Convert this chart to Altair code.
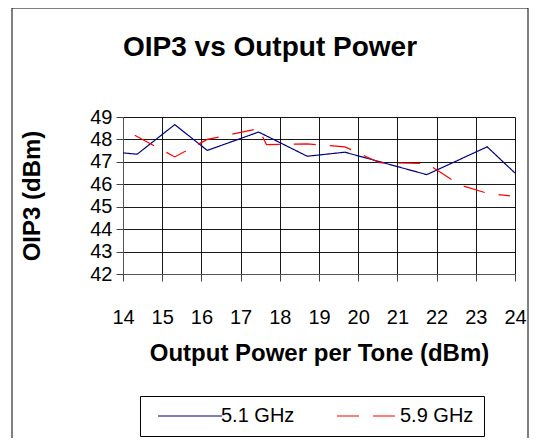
import altair as alt
import pandas as pd

series_names = ["5.1 GHz", "5.9 GHz"]

x_51 = [14.0, 14.36, 15.32, 16.15, 17.46, 18.70, 19.66, 21.75, 23.29, 24.0]
y_51 = [47.40, 47.34, 48.66, 47.51, 48.33, 47.25, 47.43, 46.43, 47.67, 46.50]

x_59 = [14.3, 15.32, 16.15, 17.46, 17.66, 18.70, 19.66, 20.55, 21.75, 22.6, 23.29, 23.87]
y_59 = [48.19, 47.22, 48.00, 48.48, 47.77, 47.80, 47.67, 46.96, 46.93, 45.97, 45.60, 45.48]

x_ticks = [14, 15, 16, 17, 18, 19, 20, 21, 22, 23, 24]
y_ticks = [42, 43, 44, 45, 46, 47, 48, 49]

chart_title = "OIP3 vs Output Power"

rows = []
for i, (a, b) in enumerate(zip(x_51, y_51)):
    rows.append({"power": a, "oip3": b, "series": series_names[0], "idx": i})
for i, (a, b) in enumerate(zip(x_59, y_59)):
    rows.append({"power": a, "oip3": b, "series": series_names[1], "idx": i})
df = pd.DataFrame(rows)

FONT = "Liberation Sans"

legend_cfg = dict(title=None, orient="none", legendX=17, legendY=279,
                  direction="horizontal", columns=2,
                  symbolType="M-1,0H31", symbolSize=16,
                  symbolStrokeWidth=1.2, labelFontSize=20, labelOffset=51,
                  labelFont=FONT, labelColor="black", strokeColor="black",
                  fillColor="white", padding=10, columnPadding=34)

lines = alt.Chart(df).mark_line(strokeWidth=1.2).encode(
    x=alt.X("power:Q",
            scale=alt.Scale(domain=[14, 24], nice=False, zero=False),
            axis=alt.Axis(values=x_ticks, title="Output Power per Tone (dBm)",
                          labelFontSize=20, labelPadding=26, tickSize=7,
                          labelFlush=False, labelOverlap=False,
                          titleFontSize=24, titlePadding=14,
                          gridColor="black", gridOpacity=0.9, tickColor="#444",
                          domainColor="#555")),
    y=alt.Y("oip3:Q",
            scale=alt.Scale(domain=[42, 49], nice=False, zero=False),
            axis=alt.Axis(values=y_ticks, title="OIP3 (dBm)",
                          labelFontSize=20, labelPadding=4, tickSize=7,
                          labelFlush=False, labelOverlap=False,
                          titleFontSize=24, titlePadding=45,
                          gridColor="black", gridOpacity=0.9, tickColor="#444",
                          domainColor="#555")),
    color=alt.Color("series:N",
                    scale=alt.Scale(domain=series_names, range=["#000080", "#FF0000"]),
                    legend=alt.Legend(**legend_cfg)),
    strokeDash=alt.StrokeDash("series:N",
                              scale=alt.Scale(domain=series_names, range=[[1, 0], [22, 14]]),
                              legend=alt.Legend(**legend_cfg)),
    order="idx:Q",
)

frame = alt.Chart(pd.DataFrame({"a": [0]})).mark_rect(
    fillOpacity=0, stroke="black", strokeWidth=1
).encode(
    x=alt.value(-111), x2=alt.value(405), y=alt.value(-109), y2=alt.value(340)
)

title_text = alt.Chart(pd.DataFrame({"t": [chart_title]})).mark_text(
    font=FONT, fontSize=28, fontWeight="bold", align="center", baseline="alphabetic",
    color="black"
).encode(
    text="t:N", x=alt.value(147), y=alt.value(-61)
)

chart = alt.layer(frame, lines, title_text).properties(
    width=392, height=157,
    padding={"left": 115, "top": 109, "right": 22, "bottom": 164},
    autosize=alt.AutoSizeParams(type="none"),
).configure_axis(
    labelFont=FONT, titleFont=FONT, labelColor="black", titleColor="black",
    titleFontWeight="bold", gridWidth=1,
).configure_view(stroke=None).configure(background="white")

chart.save("out.html", embed_options={"renderer": "svg", "actions": False})
